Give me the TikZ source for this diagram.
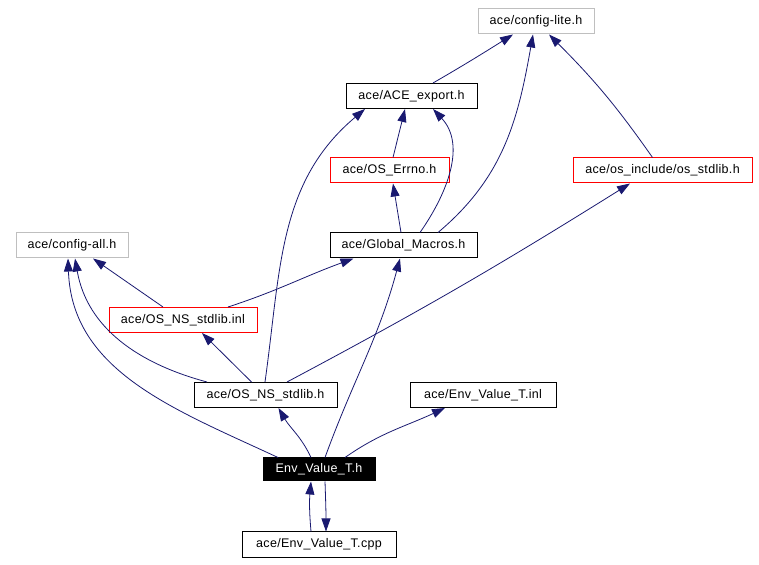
\documentclass[tikz,border=0pt]{standalone}
\usepackage{fontspec}
\setmainfont{Liberation Sans}[LetterSpace=2.5]
\usetikzlibrary{arrows.meta}
\definecolor{incblue}{HTML}{191970}
\definecolor{boxgray}{HTML}{BFBFBF}
\tikzset{
  file/.style={draw=black, line width=1pt, minimum height=25pt, inner sep=0pt,
    font=\fontsize{12.5}{15}\selectfont},
  grayfile/.style={file, draw=boxgray},
  redfile/.style={file, draw=red},
  mainfile/.style={file, fill=black, text=white, minimum height=23pt},
  incl/.style={draw=incblue, line width=0.8pt, -{Triangle[length=13pt,width=9pt]}}
}
\begin{document}
\begin{tikzpicture}[x=1pt,y=1pt]
	\useasboundingbox (0,0) rectangle (759,564);
	% files
	\node[grayfile, minimum width=116pt] (lite)   at (536,542.5) {ace/config-lite.h};
	\node[file,     minimum width=131pt] (export) at (411.5,468) {ace/ACE\_export.h};
	\node[redfile,  minimum width=119pt] (errno)  at (389.5,393.5) {ace/OS\_Errno.h};
	\node[redfile,  minimum width=179pt] (osstd)  at (662.5,393.5) {ace/os\_include/os\_stdlib.h};
	\node[grayfile, minimum width=112pt] (cfgall) at (72,318.5) {ace/config-all.h};
	\node[file,     minimum width=147pt] (glob)   at (403.5,318.5) {ace/Global\_Macros.h};
	\node[redfile,  minimum width=148pt] (nsinl)  at (183,244) {ace/OS\_NS\_stdlib.inl};
	\node[file,     minimum width=143pt] (nsh)    at (265.5,169) {ace/OS\_NS\_stdlib.h};
	\node[file,     minimum width=146pt] (envinl) at (483,169) {ace/Env\_Value\_T.inl};
	\node[mainfile, minimum width=112pt] (envh)   at (319,94.5) {Env\_Value\_T.h};
	\node[file,     minimum width=154pt] (envcpp) at (319,19.5) {ace/Env\_Value\_T.cpp};
	% includes
	\path[every edge/.style={incl}]
	([xshift=21.5pt]export.north) edge[out=30, in=212] ([xshift=-23pt]lite.south)
	([xshift=34.5pt]glob.north) edge[out=40, in=-100] ([xshift=-3pt]lite.south)
	([xshift=-10pt]osstd.north) edge[out=125, in=-45] ([xshift=13pt]lite.south)
	([xshift=3.5pt]errno.north) edge ([xshift=-6.5pt]export.south)
	([xshift=16.5pt]glob.north) edge[out=55, in=-47] ([xshift=21.5pt]export.south)
	([xshift=-2.5pt]glob.north) edge ([xshift=3.5pt]errno.south)
	([xshift=-0.5pt]nsh.north) edge[out=82, in=-140] ([xshift=-46.5pt]export.south)
	([xshift=21.5pt]nsh.north) edge[out=28, in=-148] ([xshift=-32.5pt]osstd.south)
	([xshift=-20pt]nsinl.north) edge ([xshift=21pt]cfgall.south)
	([xshift=45pt]nsinl.north) edge[out=18, in=-160] ([xshift=-50pt]glob.south)
	([xshift=-14pt]nsh.north) edge ([xshift=19pt]nsinl.south)
	([xshift=-58.5pt]nsh.north) edge[out=165, in=-80] ([xshift=3pt]cfgall.south)
	([xshift=-41pt]envh.north) edge[out=155, in=-88] ([xshift=-4pt]cfgall.south)
	([xshift=-8pt]envh.north) edge[out=115, in=-60] ([xshift=13pt]nsh.south)
	([xshift=6pt]envh.north) edge[out=70, in=-105] ([xshift=-3.5pt]glob.south)
	([xshift=26pt]envh.north) edge[out=35, in=-155] ([xshift=-38pt]envinl.south)
	([xshift=-8pt]envcpp.north) edge[out=95, in=-95] ([xshift=-8pt]envh.south)
	([xshift=6pt]envh.south) edge[out=-88, in=90] ([xshift=7pt]envcpp.north);
\end{tikzpicture}
\end{document}
